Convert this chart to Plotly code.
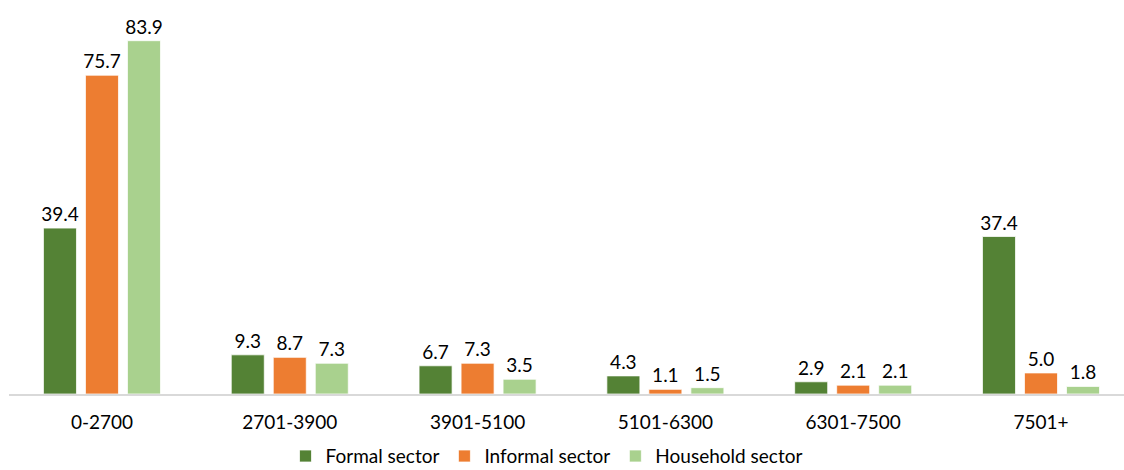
import plotly.graph_objects as go

categories = ["0-2700", "2701-3900", "3901-5100", "5101-6300", "6301-7500", "7501+"]
formal = [39.4, 9.3, 6.7, 4.3, 2.9, 37.4]
informal = [75.7, 8.7, 7.3, 1.1, 2.1, 5.0]
household = [83.9, 7.3, 3.5, 1.5, 2.1, 1.8]

series = [
    ("Formal sector", formal, "#548235"),
    ("Informal sector", informal, "#ED7D31"),
    ("Household sector", household, "#A9D18E"),
]

FONT = "Lato"

fig = go.Figure()
for name, vals, color in series:
    fig.add_trace(go.Bar(
        x=categories, y=vals, name=name,
        marker=dict(color=color, line=dict(color="white", width=0.75)),
        text=[f"{v:.1f}" for v in vals],
        textposition="outside",
        constraintext="none",
        textfont=dict(family=FONT, size=19, color="#000000"),
        cliponaxis=False,
    ))

fig.update_layout(
    width=1124, height=470,
    paper_bgcolor="white", plot_bgcolor="white",
    margin=dict(l=9, r=0, t=15, b=76, autoexpand=False),
    barmode="group",
    bargap=0.329, bargroupgap=0.214,
    font=dict(family=FONT, size=19, color="#000000"),
    showlegend=True,
    legend=dict(
        orientation="h", x=0.248, xanchor="left", y=-0.164, yanchor="middle",
        font=dict(family=FONT, size=19, color="#000000"),
        traceorder="normal",
    ),
    xaxis=dict(
        type="category", range=[-0.495, 5.442],
        showline=True, linecolor="#D9D9D9", linewidth=1.5,
        showgrid=False, ticks="", ticklabelstandoff=10,
        tickfont=dict(family=FONT, size=19, color="#000000"),
    ),
    yaxis=dict(range=[0, 90], visible=False, showgrid=False, zeroline=False),
)

fig.write_html(
    "out.html",
    config={"displayModeBar": False},
    post_script="document.body.style.margin='0px';",
)
